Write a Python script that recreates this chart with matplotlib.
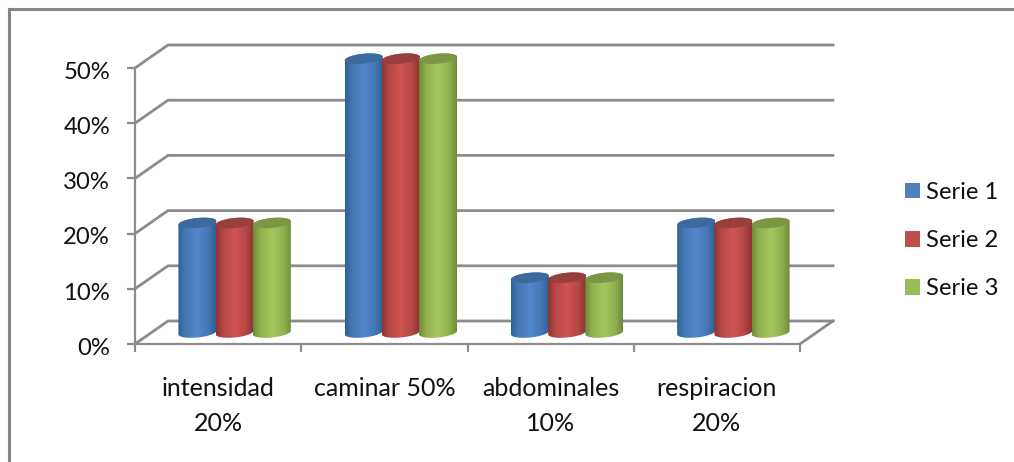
import numpy as np
import matplotlib
matplotlib.use("Agg")
import matplotlib.pyplot as plt
from matplotlib.path import Path
from matplotlib.patches import PathPatch, Patch
from matplotlib.colors import LinearSegmentedColormap
from matplotlib.transforms import ScaledTranslation

plt.rcParams['font.family'] = ['Lato', 'DejaVu Sans']

categories = ["intensidad\n20%", "caminar 50%", "abdominales\n10%", "respiracion\n20%"]
series_names = ["Serie 1", "Serie 2", "Serie 3"]
serie1 = [20, 50, 10, 20]
serie2 = [20, 50, 10, 20]
serie3 = [20, 50, 10, 20]
y_ticks = [0, 10, 20, 30, 40, 50]

W, H = 1014, 462
fig = plt.figure(figsize=(W / 100, H / 100), dpi=100, facecolor="white")
L, R, B, T = 135, 800, 344, 68
ax = fig.add_axes([L / W, 1 - B / H, (R - L) / W, (B - T) / H])
ax.set_facecolor("none")
PX = 4 / (R - L)
PY = 50 / (B - T)
DX, DY = 33 * PX, 23 * PY
GRID = "#8c8c8c"

# outer frame
fig.add_artist(plt.Line2D([8.5 / W, 8.5 / W], [0, 1 - 9 / H], color="#868686", lw=2.2))
fig.add_artist(plt.Line2D([8.5 / W, 1], [1 - 9 / H, 1 - 9 / H], color="#868686", lw=2.2))

# back wall and side wall gridlines
for v in y_ticks:
    ax.plot([0, DX, 4 + DX], [v, v + DY, v + DY], color=GRID, lw=2, clip_on=False, zorder=1,
            solid_joinstyle="miter")
ax.plot([4, 4 + DX], [0, DY], color=GRID, lw=2, clip_on=False, zorder=1)


def shade(c_dark, c_mid, c_light):
    return LinearSegmentedColormap.from_list(
        "s", [(0, c_dark), (0.18, c_mid), (0.5, c_light), (0.8, c_mid), (1, c_dark)])


STYLES = [
    (shade("#2f5f94", "#4477b3", "#5288cc"), "#3d6a9d", "#4f81bd"),
    (shade("#8c3331", "#b44744", "#cf5552"), "#973f3d", "#c0504d"),
    (shade("#6d8a38", "#8fb04e", "#a6c75f"), "#7b9745", "#9bbb59"),
]
BAR_W = 38 * PX
ELL_H = 5.0 * PY
TILT = 1.8 * PY
DEPTH_SCALE = 0.992   # bars stand mid-depth, so they project a little shorter
t = np.linspace(0, 2 * np.pi, 120)


def ell(cx, cy, tt):
    return (cx + BAR_W / 2 * np.cos(tt),
            cy + ELL_H * np.sin(tt) + TILT * np.cos(tt))


base = DY / 2
grad = np.linspace(0, 1, 256).reshape(1, -1)
for s, vals in enumerate([serie1, serie2, serie3]):
    cmap, top_c, _ = STYLES[s]
    for i, v in enumerate(vals):
        top = base + v * DEPTH_SCALE
        cx = i + 0.5 + DX / 2 + (s - 1) * 37.2 * PX
        tb = np.linspace(np.pi, 2 * np.pi, 60)
        xb, yb = ell(cx, base, tb)
        tu = np.linspace(0, np.pi, 60)
        xu, yu = ell(cx, top, tu)
        verts = np.column_stack([np.r_[xb, xu], np.r_[yb, yu]])
        clip = PathPatch(Path(np.vstack([verts, verts[:1]])), transform=ax.transData,
                         fc="none", ec="none")
        ax.add_patch(clip)
        im = ax.imshow(grad, cmap=cmap, aspect="auto", interpolation="bilinear",
                       extent=(cx - BAR_W / 2, cx + BAR_W / 2, -5, v + 10),
                       zorder=3 + s)
        im.set_clip_path(clip)
        im.set_clip_box(fig.bbox)
        xt, yt = ell(cx, top, t)
        ax.fill(xt, yt, color=top_c, zorder=3 + s + 0.1, clip_on=False, lw=0)

ax.set_xlim(0, 4)
ax.set_ylim(0, 50)

for side in ("top", "right"):
    ax.spines[side].set_visible(False)
for side in ("left", "bottom"):
    ax.spines[side].set_color(GRID)
    ax.spines[side].set_linewidth(1.6)
    ax.spines[side].set_zorder(2)

FS = 17.2
TXT = "#111111"
ax.set_yticks(y_ticks)
ax.set_yticklabels([f"{v}%" for v in y_ticks])
ax.set_xticks(np.arange(5))
ax.set_xticklabels([])
ax.set_xticks(np.arange(4) + 0.5, minor=True)
ax.set_xticklabels(categories, minor=True, linespacing=1.62, va="top")
ax.tick_params(axis="y", length=6, width=1.6, color=GRID, labelsize=FS, pad=12, labelcolor=TXT)
ax.tick_params(axis="x", which="major", length=6, width=1.6, color=GRID)
ax.tick_params(axis="x", which="minor", length=0, labelsize=18, pad=24, labelcolor=TXT)
shift = ScaledTranslation(0, -2.2 / 100, fig.dpi_scale_trans)
for lab in ax.get_yticklabels():
    lab.set_transform(lab.get_transform() + shift)

handles = [Patch(facecolor=STYLES[i][2], edgecolor="none") for i in range(3)]
fig.legend(handles, series_names, loc="upper left", bbox_to_anchor=(905 / W, 1 - 182 / H),
           frameon=False, fontsize=FS, handlelength=0.62, handleheight=0.62,
           handletextpad=0.26, labelspacing=1.14, labelcolor=TXT, borderpad=0, borderaxespad=0)

fig.savefig("out.png", dpi=100, facecolor="white")
